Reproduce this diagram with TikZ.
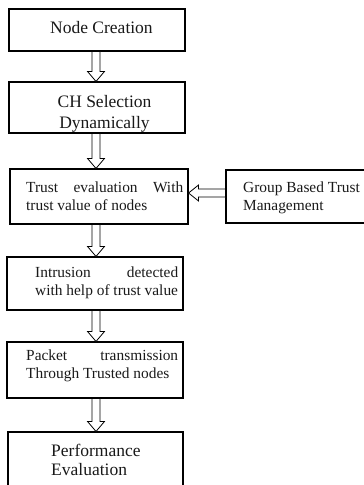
\documentclass[tikz,border=0pt]{standalone}
\usepackage{fontspec}
\setmainfont{Liberation Serif}
\usetikzlibrary{calc}
\newcommand\bigtxt{\fontsize{17.5pt}{20pt}\selectfont}
\newcommand\smltxt{\fontsize{15.4pt}{18pt}\selectfont}
\newcommand\twoln[4]{\vtop{\baselineskip=#1\hbox to #2{#3}\hbox{#4}}}
\tikzset{
  box/.style={draw, line width=1.1pt, rectangle, inner sep=0pt},
  txt/.style={inner sep=0pt, anchor=base west, text=black!90},
  blk/.style={draw, line width=0.8pt, fill=white, line join=miter}
}
\newcommand\varr[2]{\draw[blk] let \p1=(#1.south), \p2=(#2.north) in
  (92pt,\y1) -- (92pt,\y2+10pt) -- (87.5pt,\y2+10pt) -- (96pt,\y2) --
  (104.5pt,\y2+10pt) -- (100pt,\y2+10pt) -- (100pt,\y1) -- cycle;}
\begin{document}
\begin{tikzpicture}[x=1pt,y=-1pt]
\path[use as bounding box, clip] (0,0) rectangle (364,485);
\node[box, minimum width=176pt, minimum height=42pt] (b1) at (97,30) {};
\node[box, minimum width=176pt, minimum height=51pt] (b2) at (97,107.5) {};
\node[box, minimum width=178pt, minimum height=55pt] (b3) at (99,196.5) {};
\node[box, minimum width=148pt, minimum height=53pt] (g) at (300,196.5) {};
\node[box, minimum width=176pt, minimum height=53pt] (b4) at (95,283.5) {};
\node[box, minimum width=176pt, minimum height=56pt] (b5) at (95,370) {};
\node[box, minimum width=175pt, minimum height=63pt] (b6) at (95.5,463.5) {};
% texts
\node[txt] (t1) at (50,33) {\bigtxt Node Creation};
\node[txt, anchor=base] (t2) at (104.5,107) {\bigtxt\twoln{21pt}{110pt}{\hss CH Selection\hss}{\hbox to 110pt{\hss Dynamically\hss}}};
\node[txt] (t3) at (26,192) {\smltxt\twoln{18pt}{157pt}{Trust\hfill evaluation\hfill With}{trust value of nodes}};
\node[txt] (tg) at (243,192) {\smltxt\twoln{18pt}{120pt}{Group Based Trust\hss}{Management}};
\node[txt] (t4) at (35,277) {\smltxt\twoln{18pt}{143pt}{Intrusion\hfill detected}{with help of trust value}};
\node[txt] (t5) at (26,360) {\smltxt\twoln{18pt}{152pt}{Packet\hfill transmission}{Through Trusted nodes}};
\node[txt] (t6) at (51,456) {\bigtxt\twoln{19pt}{100pt}{Performance\hss}{Evaluation}};
% arrows
\varr{b1}{b2}
\varr{b2}{b3}
\varr{b3}{b4}
\varr{b4}{b5}
\varr{b5}{b6}
\draw[blk] let \p1=(g.west), \p2=(b3.east) in
  (\x1,-189pt) -- (\x2+10pt,-189pt) -- (\x2+10pt,-185pt) -- (\x2,-193pt) --
  (\x2+10pt,-201pt) -- (\x2+10pt,-197pt) -- (\x1,-197pt) -- cycle;
\end{tikzpicture}
\end{document}
